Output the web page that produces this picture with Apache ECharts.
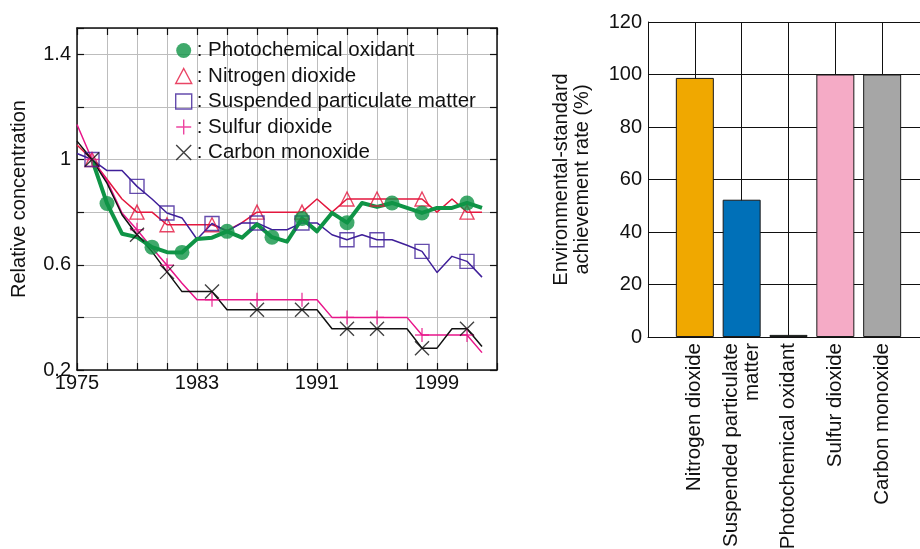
<!DOCTYPE html>
<html>
<head>
<meta charset="utf-8">
<title>Air pollutants</title>
<script src="https://cdn.jsdelivr.net/npm/echarts@6/dist/echarts.min.js"></script>
<style>
    html, body { margin: 0; padding: 0; background: #fff; }
    #chart { width: 920px; height: 549px; }
</style>
</head>
<body>
<div id="chart"></div>
<script>
// left panel: relative concentration, 1976 = 1
var years = [1975, 1976, 1977, 1978, 1979, 1980, 1981, 1982, 1983, 1984,
    1985, 1986, 1987, 1988, 1989, 1990, 1991, 1992, 1993, 1994,
    1995, 1996, 1997, 1998, 1999, 2000, 2001, 2002];
var oxidant = [null, 1, 0.833, 0.718, 0.705, 0.667, 0.648, 0.647, 0.698, 0.703,
    0.727, 0.703, 0.754, 0.705, 0.688, 0.776, 0.727, 0.797, 0.76, 0.835,
    0.82, 0.835, 0.816, 0.797, 0.816, 0.816, 0.835, 0.816];
var nitrogen = [1.055, 1, 0.925, 0.85, 0.8, 0.8, 0.752, 0.752, 0.752, 0.752,
    0.73, 0.76, 0.8, 0.8, 0.8, 0.8, 0.85, 0.8, 0.85, 0.85,
    0.85, 0.85, 0.85, 0.85, 0.8, 0.85, 0.8, 0.8];
var particulate = [1.023, 1, 0.958, 0.958, 0.898, 0.85, 0.797, 0.778, 0.697, 0.757,
    0.727, 0.759, 0.759, 0.733, 0.733, 0.759, 0.759, 0.714, 0.695, 0.714,
    0.695, 0.695, 0.674, 0.651, 0.571, 0.632, 0.613, 0.553];
var sulfur = [1.133, 1, 0.92, 0.797, 0.733, 0.664, 0.598, 0.53, 0.467, 0.467,
    0.467, 0.467, 0.467, 0.467, 0.467, 0.467, 0.467, 0.4, 0.4, 0.4,
    0.4, 0.4, 0.4, 0.333, 0.333, 0.333, 0.333, 0.266];
var carbon = [1.07, 1, 0.91, 0.79, 0.714, 0.65, 0.573, 0.498, 0.498, 0.498,
    0.429, 0.429, 0.429, 0.429, 0.429, 0.429, 0.429, 0.357, 0.357, 0.357,
    0.357, 0.357, 0.357, 0.283, 0.283, 0.357, 0.357, 0.289];
// years that carry a marker
var oxidantMarks = [1977, 1980, 1982, 1985, 1988, 1990, 1993, 1996, 1998, 2001];
var otherMarks = [1976, 1979, 1981, 1984, 1987, 1990, 1993, 1995, 1998, 2001];
var yLabels = [0.2, 0.6, 1, 1.4];
var xLabels = [1975, 1983, 1991, 1999];

// right panel: environmental-standard achievement rate (%)
var pollutants = ["Nitrogen dioxide", "Suspended particulate\nmatter", "Photochemical oxidant", "Sulfur dioxide", "Carbon monoxide"];
var rates = [98.7, 52.3, 0.8, 100, 100];

var FONT = "Liberation Sans, Arial, sans-serif";
var PLUS = "path://M5,0L5,10M0,5L10,5";
var CROSS = "path://M0,0L10,10M10,0L0,10";
var barColors = ["#f0a800", "#0070b8", "#23803a", "#f5abc6", "#a6a6a6"];

function pairs(values) {
    return years.map(function (y, i) { return [y, values[i]]; });
}
function marks(values, list) {
    return list.map(function (y) { return [y, values[years.indexOf(y)]]; });
}

var lineDefs = [
    { name: "Nitrogen dioxide", values: nitrogen, color: "#e3173e", symbol: "triangle", marks: otherMarks },
    { name: "Suspended particulate matter", values: particulate, color: "#3f1f99", symbol: "rect", marks: otherMarks },
    { name: "Sulfur dioxide", values: sulfur, color: "#e8168a", symbol: PLUS, marks: otherMarks },
    { name: "Carbon monoxide", values: carbon, color: "#111111", symbol: CROSS, marks: otherMarks },
    { name: "Photochemical oxidant", values: oxidant, color: "#0f9446", symbol: "circle", marks: oxidantMarks }
];

var series = [];
lineDefs.forEach(function (d) {
    var thick = d.symbol === "circle";
    series.push({
        name: d.name + " line",
        type: "line",
        xAxisIndex: 0,
        yAxisIndex: 0,
        data: pairs(d.values),
        showSymbol: false,
        symbol: "none",
        lineStyle: { color: d.color, width: thick ? 4 : 1.5, join: "round" },
        z: thick ? 4 : 3,
        silent: true
    });
});
lineDefs.forEach(function (d) {
    var filled = d.symbol === "circle";
    series.push({
        name: d.name,
        type: "scatter",
        xAxisIndex: 0,
        yAxisIndex: 0,
        data: marks(d.values, d.marks),
        symbol: d.symbol,
        symbolSize: filled ? 15 : 14,
        itemStyle: filled
            ? { color: d.color, borderWidth: 0 }
            : { color: "rgba(0,0,0,0)", borderColor: d.color, borderWidth: 1.4 },
        z: 5
    });
});
series.push({
    type: "bar",
    xAxisIndex: 2,
    yAxisIndex: 2,
    barWidth: 38,
    data: rates.map(function (r, i) {
        return { value: [i + 1, r], itemStyle: { color: barColors[i] } };
    }),
    itemStyle: { borderColor: "#1a1a1a", borderWidth: 1 },
    z: 3
});

var tickText = { fontFamily: FONT, fontSize: 20, color: "#111" };
var frame = { show: true, lineStyle: { color: "#111", width: 1.5 } };

var option = {
    animation: false,
    backgroundColor: "#fff",
    grid: [
        { left: 77, top: 28, right: 423, bottom: 179, outerBoundsMode: "none" },
        // right edge of this panel lies past the page border
        { left: 648, top: 22, width: 281, bottom: 212, outerBoundsMode: "none" }
    ],
    legend: {
        orient: "vertical",
        left: 170,
        top: 35,
        itemWidth: 16,
        itemHeight: 15,
        itemGap: 4.5,
        formatter: ": {name}",
        selectedMode: false,
        itemStyle: { borderWidth: 1.4 },
        textStyle: { fontFamily: FONT, fontSize: 20.5, color: "#111" },
        data: ["Photochemical oxidant", "Nitrogen dioxide", "Suspended particulate matter", "Sulfur dioxide", "Carbon monoxide"]
    },
    xAxis: [
        {
            type: "value", gridIndex: 0, position: "bottom",
            min: 1975, max: 2003, interval: 2,
            axisLine: frame,
            axisTick: { show: true, inside: true, length: 7, lineStyle: { color: "#111", width: 1.2 } },
            axisLabel: Object.assign({
                margin: 3,
                formatter: function (v) { return xLabels.indexOf(v) >= 0 ? String(v) : ""; }
            }, tickText),
            splitLine: { show: true, lineStyle: { color: "#bdbdbd", width: 1 } }
        },
        {
            type: "value", gridIndex: 0, position: "top",
            min: 1975, max: 2003, interval: 2,
            axisLine: frame,
            axisTick: { show: true, inside: true, length: 7, lineStyle: { color: "#111", width: 1.2 } },
            axisLabel: { show: false },
            splitLine: { show: false }
        },
        {
            type: "value", gridIndex: 1, position: "bottom",
            min: 0, max: 6, interval: 1,
            axisLine: { show: true, lineStyle: { color: "#111", width: 1 } },
            axisTick: { show: false },
            axisLabel: Object.assign({}, tickText, {
                fontSize: 20.5,
                rotate: 90,
                margin: 6,
                lineHeight: 21,
                formatter: function (v) { return pollutants[v - 1] || ""; }
            }),
            splitLine: { show: true, lineStyle: { color: "#111", width: 1 } }
        }
    ],
    yAxis: [
        {
            type: "value", gridIndex: 0, position: "left",
            min: 0.2, max: 1.5, interval: 0.2,
            name: "Relative concentration",
            nameLocation: "middle",
            nameGap: 48,
            nameTextStyle: { fontFamily: FONT, fontSize: 20, color: "#111" },
            axisLine: frame,
            axisTick: { show: true, inside: true, length: 7, lineStyle: { color: "#111", width: 1.2 } },
            axisLabel: Object.assign({
                margin: 6,
                formatter: function (v) {
                    var r = Math.round(v * 10) / 10;
                    return yLabels.indexOf(r) >= 0 ? String(r) : "";
                }
            }, tickText),
            splitLine: { show: true, lineStyle: { color: "#bdbdbd", width: 1 } }
        },
        {
            type: "value", gridIndex: 0, position: "right",
            min: 0.2, max: 1.5, interval: 0.2,
            axisLine: frame,
            axisTick: { show: true, inside: true, length: 7, lineStyle: { color: "#111", width: 1.2 } },
            axisLabel: { show: false },
            splitLine: { show: false }
        },
        {
            type: "value", gridIndex: 1, position: "left",
            min: 0, max: 120, interval: 20,
            name: "Environmental-standard\nachievement rate (%)",
            nameLocation: "middle",
            nameGap: 55,
            nameTextStyle: { fontFamily: FONT, fontSize: 20, color: "#111", lineHeight: 21 },
            axisLine: { show: true, lineStyle: { color: "#111", width: 1 } },
            axisTick: { show: false },
            axisLabel: Object.assign({ margin: 6 }, tickText),
            splitLine: { show: true, lineStyle: { color: "#111", width: 1 } }
        }
    ],
    series: series
};

var chart = echarts.init(document.getElementById("chart"), null, { renderer: "canvas" });
chart.setOption(option);
</script>
</body>
</html>
